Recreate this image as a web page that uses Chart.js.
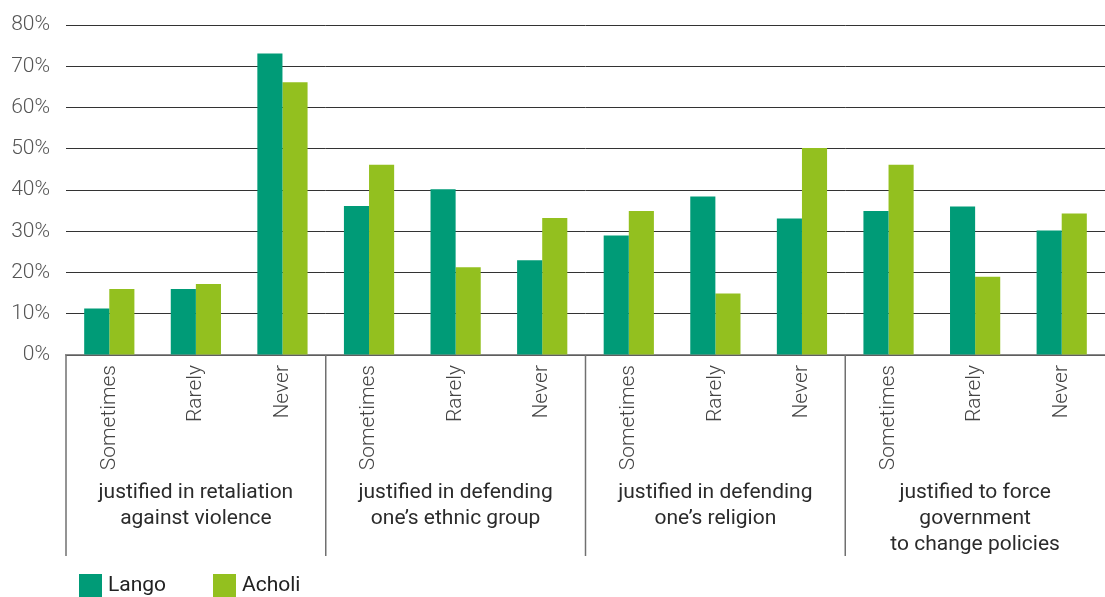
<!DOCTYPE html>
<html>
<head>
<meta charset="utf-8">
<script src="https://cdn.jsdelivr.net/npm/chart.js@4.4.1/dist/chart.umd.min.js"></script>
<style>
    html, body { margin: 0; padding: 0; background: #fff; }
    .chart-box { position: relative; width: 1105px; height: 597px; }
</style>
</head>
<body>
<div class="chart-box">
    <canvas id="chart"></canvas>
</div>
<script>
// categories (answer per bar pair)
const categories = [
    'Sometimes', 'Rarely', 'Never',
    'Sometimes', 'Rarely', 'Never',
    'Sometimes', 'Rarely', 'Never',
    'Sometimes', 'Rarely', 'Never'
];

// one label per block of three categories
const groupLabels = [
    ['justified in retaliation', 'against violence'],
    ['justified in defending', 'one\u2019s ethnic group'],
    ['justified in defending', 'one\u2019s religion'],
    ['justified to force', 'government', 'to change policies']
];

const langoValues = [11.3, 16.0, 73.1, 36.1, 40.2, 23.0, 29.0, 38.4, 33.1, 34.9, 36.0, 30.2];
const acholiValues = [16.0, 17.2, 66.1, 46.1, 21.3, 33.2, 34.9, 14.9, 50.2, 46.1, 19.0, 34.3];

const yTicks = [0, 10, 20, 30, 40, 50, 60, 70, 80];

const colLango = '#009b77';
const colAcholi = '#93c01f';
const fontFam = 'Roboto, "Noto Sans", sans-serif';

// separators, group names and legend drawn below the axis
const groupPlugin = {
    id: 'groupPlugin',
    afterDraw(chart) {
        const ctx = chart.ctx;
        const x = chart.scales.x;
        const area = chart.chartArea;
        const step = x.getPixelForValue(1) - x.getPixelForValue(0);
        const lineBottom = area.bottom + 201;

        ctx.save();
        ctx.strokeStyle = '#707070';
        ctx.lineWidth = 1.5;
        groupLabels.forEach((lines, g) => {
            const left = x.getPixelForValue(g * 3) - step / 2;
            ctx.beginPath();
            ctx.moveTo(left, area.bottom);
            ctx.lineTo(left, lineBottom);
            ctx.stroke();

            const mid = left + step * 1.5;
            ctx.fillStyle = '#2b2b2b';
            ctx.font = '400 21px ' + fontFam;
            ctx.textAlign = 'center';
            ctx.textBaseline = 'middle';
            lines.forEach((t, i) => {
                ctx.fillText(t, mid, area.bottom + 138 + i * 26);
            });
        });

        // legend
        let lx = 79;
        chart.data.datasets.forEach((ds) => {
            ctx.fillStyle = ds.backgroundColor;
            ctx.fillRect(lx, 574, 23, 23);
            ctx.fillStyle = '#222';
            ctx.font = '400 21px ' + fontFam;
            ctx.textAlign = 'left';
            ctx.textBaseline = 'middle';
            ctx.fillText(ds.label, lx + 29, 586);
            lx += 134;
        });
        ctx.restore();
    }
};

new Chart(document.getElementById('chart'), {
    type: 'bar',
    data: {
        labels: categories,
        datasets: [
            { label: 'Lango', data: langoValues, backgroundColor: colLango },
            { label: 'Acholi', data: acholiValues, backgroundColor: colAcholi }
        ]
    },
    options: {
        responsive: true,
        maintainAspectRatio: false,
        animation: false,
        datasets: {
            bar: { categoryPercentage: 0.58, barPercentage: 1.0 }
        },
        layout: { padding: { top: 25, right: 0, bottom: 41, left: 0 } },
        plugins: {
            legend: { display: false },
            tooltip: { enabled: false }
        },
        scales: {
            x: {
                grid: { display: false, drawTicks: false },
                border: { display: true, color: '#8a8a8a', width: 1.5 },
                ticks: {
                    autoSkip: false,
                    minRotation: 90,
                    maxRotation: 90,
                    padding: 10,
                    color: '#444',
                    font: { family: fontFam, size: 21, weight: '300' }
                },
                afterFit: (scale) => {
                    scale.height = 201;
                    scale.paddingLeft = 0;
                    scale.paddingRight = 0;
                }
            },
            y: {
                min: 0,
                max: 80,
                afterBuildTicks: (scale) => {
                    scale.ticks = yTicks.map(v => ({ value: v }));
                },
                grid: { color: '#333', lineWidth: 1, drawTicks: false },
                border: { display: false },
                ticks: {
                    padding: 16,
                    color: '#555',
                    font: { family: fontFam, size: 21, weight: '300' },
                    callback: (v) => v + '%'
                },
                afterFit: (scale) => {
                    scale.width = 66;
                    scale.paddingTop = 0;
                    scale.paddingBottom = 0;
                }
            }
        }
    },
    plugins: [groupPlugin]
});
</script>
</body>
</html>
